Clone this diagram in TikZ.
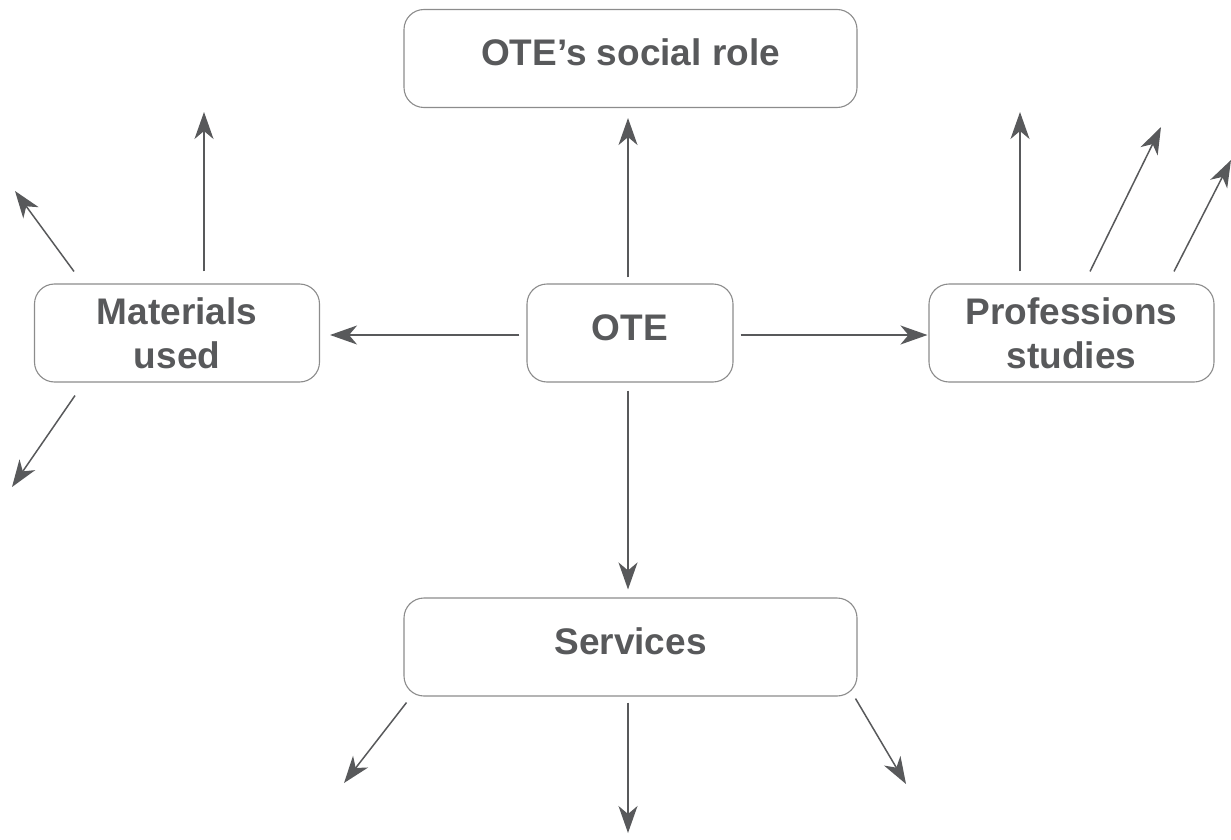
\documentclass[tikz,border=0pt]{standalone}
\usepackage{fontspec}
\setmainfont{Liberation Sans}
\usetikzlibrary{arrows.meta}
\definecolor{ink}{HTML}{58595B}
\definecolor{frame}{HTML}{8C8C8C}
\tikzset{
  topic/.style={draw=frame, line width=1.1pt, rounded corners=20pt, fill=white,
    text=ink, font=\fontsize{37}{44}\selectfont\bfseries,
    minimum height=98pt, inner sep=0pt},
  oneline/.style={topic, text height=26.5pt, text depth=12pt},
  twoline/.style={topic, align=center},
  tip/.tip={Stealth[length=27pt, width=19pt, inset=8pt]},
  arr/.style={draw=ink, line width=1.5pt, -tip},
}
\begin{document}
\begin{tikzpicture}[x=1pt, y=-1pt]
  \useasboundingbox (0,0) rectangle (1231,840);

  % boxes
  \node[oneline, minimum width=453pt] (social) at (630.5,58.5) {OTE's social role};
  \node[oneline, minimum width=206pt] (ote) at (630,333) {OTE};
  \node[twoline, minimum width=285pt] (mat) at (177,333) {Materials\\used};
  \node[twoline, minimum width=285pt] (prof) at (1071.5,333) {Professions\\studies};
  \node[oneline, minimum width=453pt] (serv) at (630.5,647) {Services};

  % links from the centre
  \draw[arr, shorten <=6pt, shorten >=10pt] ([xshift=-2pt]ote.north) -- ([xshift=-2.5pt]social.south);
  \draw[arr, shorten <=7pt, shorten >=10pt] ([yshift=-2pt]ote.west) -- ([yshift=-2pt]mat.east);
  \draw[arr, shorten <=7pt, shorten >=1pt] ([yshift=-2pt]ote.east) -- ([yshift=-2pt]prof.west);
  \draw[arr, shorten <=8pt, shorten >=8pt] ([xshift=-2pt]ote.south) -- ([xshift=-2.5pt]serv.north);

  % open ends
  \coordinate (m1) at (204,112);
  \coordinate (m2) at (15,191);
  \coordinate (m3) at (12,487);
  \coordinate (p1) at (1020,112);
  \coordinate (p2) at (1161,127);
  \coordinate (p3) at (1231,160);
  \coordinate (s1) at (344,783);
  \coordinate (s2) at (628,833);
  \coordinate (s3) at (906,784);

  \draw[arr] ([shift={(27pt,12pt)}]mat.north) -- (m1);
  \draw[arr] ([shift={(-103pt,12pt)}]mat.north) -- (m2);
  \draw[arr] ([shift={(-102pt,-13pt)}]mat.south) -- (m3);

  \draw[arr] ([shift={(-51.5pt,12pt)}]prof.north) -- (p1);
  \draw[arr] ([shift={(18.5pt,12pt)}]prof.north) -- (p2);
  \draw[arr] ([shift={(102.5pt,12pt)}]prof.north) -- (p3);

  \draw[arr] ([shift={(-224pt,-6pt)}]serv.south) -- (s1);
  \draw[arr] ([shift={(-2.5pt,-6pt)}]serv.south) -- (s2);
  \draw[arr] ([shift={(225pt,-2pt)}]serv.south) -- (s3);
\end{tikzpicture}
\end{document}
